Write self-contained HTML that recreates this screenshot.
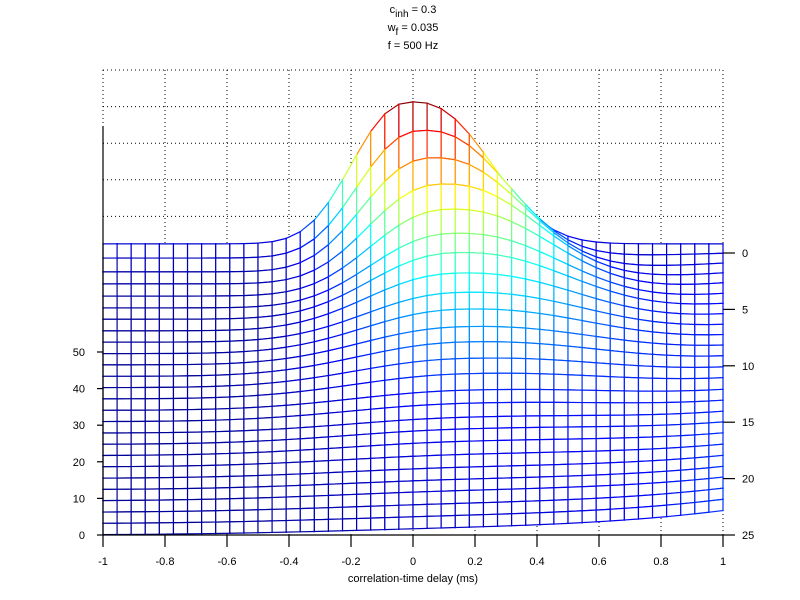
<!DOCTYPE html>
<html><head><meta charset="utf-8"><style>
html,body{margin:0;padding:0;background:#fff;}
svg{display:block;font-family:"Liberation Sans",sans-serif;}
</style></head><body>
<svg id="chart" width="800" height="600" viewBox="0 0 800 600">
<g id="grid"></g>
<g id="mesh"></g>
<g id="axes"></g>
<g font-size="11" text-anchor="middle" fill="#000">
<text x="413" y="13">c<tspan font-size="10" dy="4">inh</tspan><tspan dy="-4"> = 0.3</tspan></text>
<text x="413" y="31">w<tspan font-size="10" dy="4">f</tspan><tspan dy="-4"> = 0.035</tspan></text>
<text x="413" y="49">f = 500 Hz</text>
</g>
<text x="413" y="582" font-size="11" text-anchor="middle">correlation-time delay (ms)</text>
</svg>
<script>
const peakZ = [41.3,36.6,32.2,28.1,24.3,20.8,18.6,16.1,13.9,12.4,10.7,9.6,8.2,7.1,5.7,5.2,4.5,4.4,4.1,3.6,3.2,3.0,3.0,2.6,2.4,2.2];
const peakX = [0,0.035,0.065,0.097,0.12,0.135,0.145,0.15,0.16,0.165,0.17,0.175,0.18,0.185,0.19,0.19,0.2,0.2,0.2,0.2,0.2,0.2,0.2,0.2,0.2,0.2];
const leftBase = [2.5,1.7,1.0,0.8,0.55,0.4,0.4,0.3,0.3,0.25,0.25,0.2,0.2,0.2,0.15,0.15,0.1,0.1,0.1,0.1,0.05,0.05,0.05,0,0,0];
const rightBase = [2.5,3.0,3.4,3.8,4.1,4.2,4.4,4.5,4.5,4.6,4.7,4.7,4.7,4.8,4.8,4.9,5.0,5.1,5.2,5.3,5.4,5.5,5.6,5.8,5.9,6.0];
const widthL = [0.25,0.27,0.29,0.31,0.33,0.35,0.37,0.39,0.41,0.43,0.45,0.47,0.49,0.51,0.53,0.55,0.57,0.59,0.61,0.63,0.65,0.67,0.69,0.71,0.73,0.75];
const widthR = [0.32,0.345,0.37,0.395,0.42,0.445,0.47,0.495,0.52,0.545,0.57,0.595,0.62,0.645,0.67,0.695,0.72,0.745,0.77,0.795,0.82,0.845,0.87,0.895,0.92,0.945];
const xTicks = [-1,-0.8,-0.6,-0.4,-0.2,0,0.2,0.4,0.6,0.8,1];
const xTickLabels = ["-1","-0.8","-0.6","-0.4","-0.2","0","0.2","0.4","0.6","0.8","1"];
const zTicks = [0,10,20,30,40,50];
const yTicks = [0,5,10,15,20,25];
const nX = 45;

const NS = "http://www.w3.org/2000/svg";
function X(x){return 103 + (x+1)*310;}
function P(y,z){return 253 + y*11.28 - z*3.66;}
function el(tag, attrs, parent){const e=document.createElementNS(NS,tag);for(const k in attrs)e.setAttribute(k,attrs[k]);parent.appendChild(e);return e;}
function clamp(v){return Math.max(0,Math.min(1,v));}
function jet(t){t=0.02+0.98*t;const r=clamp(1.5-Math.abs(4*t-3)),g=clamp(1.5-Math.abs(4*t-2)),b=clamp(1.5-Math.abs(4*t-1));return `rgb(${Math.round(r*255)},${Math.round(g*255)},${Math.round(b*255)})`;}

function baseAt(j,x){return leftBase[j] + (rightBase[j]-leftBase[j])*Math.pow((x+1)/2,4);}
function zAt(j,x){
  const mu=peakX[j];
  const A=peakZ[j]-baseAt(j,mu);
  const d=x-mu;
  const s=d<0?widthL[j]:widthR[j];
  const p=2.4 - 0.4*j/(peakZ.length-1);
  return baseAt(j,x) + A*Math.exp(-Math.pow(Math.abs(d)/s,p));
}
const xs=[];for(let i=0;i<nX;i++)xs.push(-1+2*i/(nX-1));
const nY=peakZ.length;
const Z=[];for(let j=0;j<nY;j++){Z.push(xs.map(x=>zAt(j,x)));}
let zmax=0;Z.forEach(r=>r.forEach(v=>{if(v>zmax)zmax=v;}));

const grid=document.getElementById('grid');
for(let k=1;k<zTicks.length;k++){
  const y=P(0,zTicks[k]);
  const l=el('line',{x1:103,x2:723,y1:y,y2:y,stroke:'#000','stroke-dasharray':'1,3','stroke-width':1},grid);
  
  
}
xTicks.forEach(t=>{
  const l=el('line',{x1:X(t),x2:X(t),y1:P(0,50),y2:535,stroke:'#000','stroke-dasharray':'1,3','stroke-width':1},grid);
  
  
});

const mesh=document.getElementById('mesh');
function pt(j,i){return [X(xs[i]),P(j,Z[j][i])];}
for(let j=0;j<nY-1;j++){
  for(let i=0;i<nX-1;i++){
    const a=pt(j,i),b=pt(j,i+1),c=pt(j+1,i+1),d=pt(j+1,i);
    const q=el('polygon',{points:[a,b,c,d].map(p=>p.join(',')).join(' '),fill:'#fff',stroke:'none'},mesh);
    
    
    const edges=[[a,b,Z[j][i],Z[j][i+1]],[b,c,Z[j][i+1],Z[j+1][i+1]],[c,d,Z[j+1][i+1],Z[j+1][i]],[d,a,Z[j+1][i],Z[j][i]]];
    edges.forEach(e=>{
      const l=el('line',{x1:e[0][0],y1:e[0][1],x2:e[1][0],y2:e[1][1],stroke:jet((e[2]+e[3])/2/zmax),'stroke-width':1.2,'stroke-linecap':'square'},mesh);
      
      
    });
  }
}

const axes=document.getElementById('axes');
const la=el('line',{x1:103,x2:103,y1:126,y2:535,stroke:'#000','stroke-width':1.2},axes);


const ba=el('line',{x1:103,x2:723,y1:535,y2:535,stroke:'#000','stroke-width':1.2},axes);


xTicks.forEach((t,k)=>{
  const l=el('line',{x1:X(t),x2:X(t),y1:535,y2:547,stroke:'#000','stroke-width':1.2},axes);
  
  
  const tx=el('text',{x:X(t),y:565,'font-size':11,'text-anchor':'middle'},axes);
  tx.textContent=xTickLabels[k];
  
  
});
zTicks.forEach(t=>{
  const y=535-t*3.66;
  const l=el('line',{x1:97,x2:103,y1:y,y2:y,stroke:'#000','stroke-width':1.2},axes);
  
  
  const tx=el('text',{x:85,y:y+4,'font-size':11,'text-anchor':'end'},axes);
  tx.textContent=String(t);
  
  
});
yTicks.forEach(t=>{
  const y=253+t*11.28;
  const l=el('line',{x1:723,x2:735,y1:y,y2:y,stroke:'#000','stroke-width':1.2},axes);
  
  
  const tx=el('text',{x:742,y:y+4,'font-size':11,'text-anchor':'start'},axes);
  tx.textContent=String(t);
  
  
});
</script>
</body></html>
